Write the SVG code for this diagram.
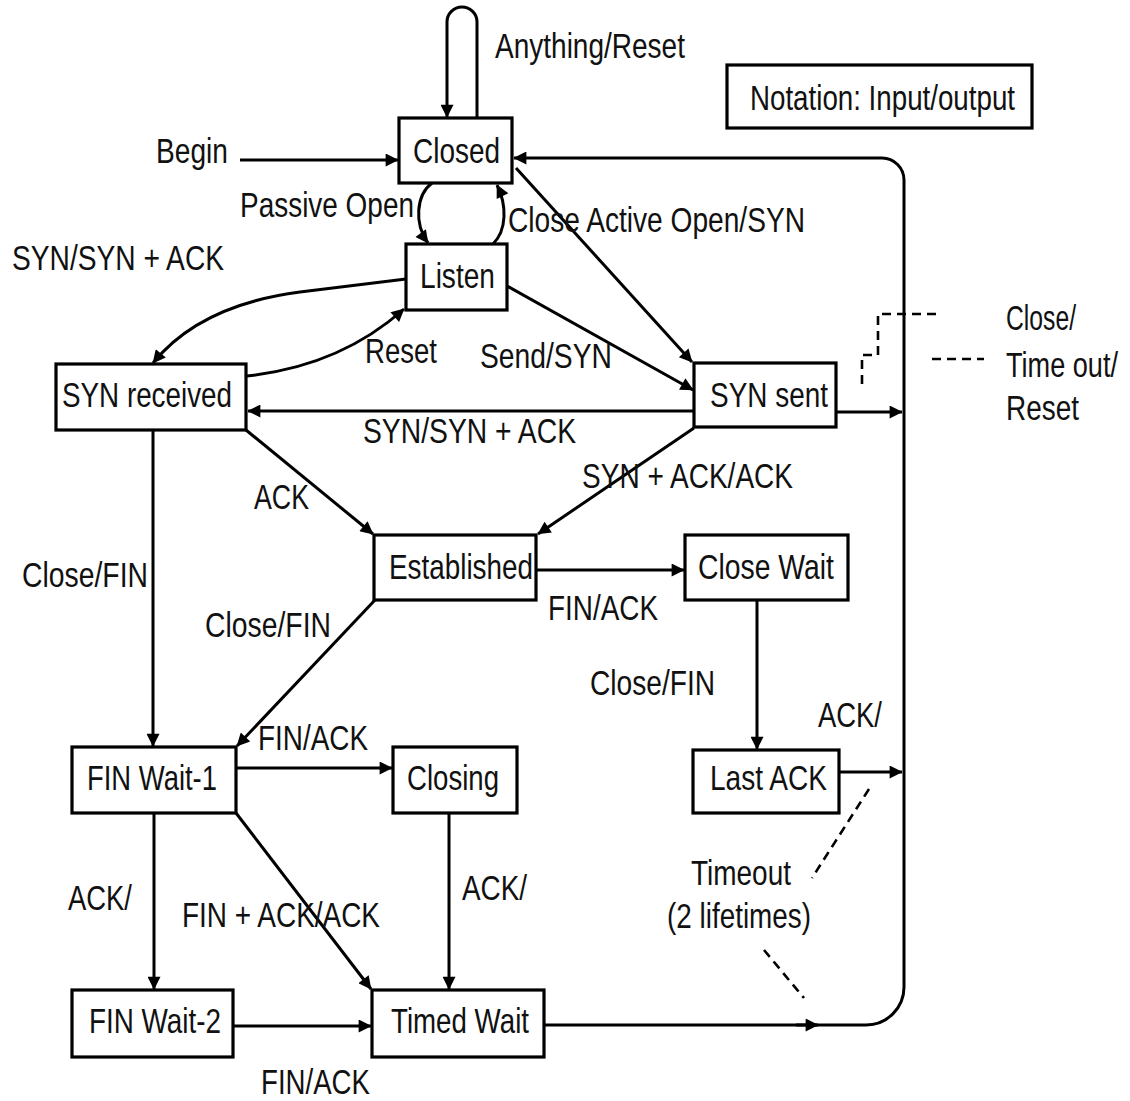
<svg xmlns="http://www.w3.org/2000/svg" width="1130" height="1101" viewBox="0 0 1130 1101">
  <style>
    .box { fill: #ffffff; stroke: #000000; stroke-width: 3.2; }
    .t { font-family: "Liberation Sans", Arial, sans-serif; font-size: 35px; fill: #111111; }
    .edge { fill: none; stroke: #000000; stroke-width: 3; }
    .arr { marker-end: url(#head); }
    .dash { fill: none; stroke: #000000; stroke-width: 2.6; stroke-dasharray: 9 6; }
  </style>
  <defs>
    <marker id="head" viewBox="0 0 10 10" refX="9.5" refY="5" markerUnits="userSpaceOnUse" markerWidth="16" markerHeight="13" orient="auto">
      <path d="M0,0 L10,5 L0,10 z" fill="#000000"/>
    </marker>
  </defs>
  <rect width="1130" height="1101" fill="#ffffff"/>

  <!-- transitions -->
  <g id="connectors">
    <!-- Closed self loop: Anything/Reset -->
    <path class="edge arr" d="M477,118 V22 A15,15 0 0 0 447,22 V117"/>
    <!-- Begin -->
    <path class="edge arr" d="M240,160 H398"/>
    <!-- Passive Open -->
    <path class="edge arr" d="M432,183 C416,195 414,224 428,243"/>
    <!-- Close (Listen back to Closed) -->
    <path class="edge arr" d="M493,244 C507,230 507,205 497,185"/>
    <!-- Active Open/SYN -->
    <path class="edge arr" d="M516,168 L692,362"/>
    <!-- Send/SYN -->
    <path class="edge arr" d="M507,286 L693,390"/>
    <!-- Listen to SYN received -->
    <path class="edge arr" d="M406,279 L300,292 Q200,305 153,363"/>
    <!-- Reset back to Listen -->
    <path class="edge arr" d="M247,376 Q340,366 404,309"/>
    <!-- SYN sent to SYN received -->
    <path class="edge arr" d="M694,411 H248"/>
    <!-- ACK -->
    <path class="edge arr" d="M246,430 L373,534"/>
    <!-- SYN + ACK/ACK -->
    <path class="edge arr" d="M694,428 L538,534"/>
    <!-- FIN/ACK to Close Wait -->
    <path class="edge arr" d="M536,570 H684"/>
    <!-- Close/FIN to Last ACK -->
    <path class="edge arr" d="M757,600 V749"/>
    <!-- SYN received Close/FIN -->
    <path class="edge arr" d="M153,430 V746"/>
    <!-- Established Close/FIN -->
    <path class="edge arr" d="M375,600 L237,746"/>
    <!-- FIN Wait-1 to Closing -->
    <path class="edge arr" d="M236,768 H392"/>
    <!-- FIN Wait-1 to FIN Wait-2 -->
    <path class="edge arr" d="M154,813 V989"/>
    <!-- FIN + ACK/ACK -->
    <path class="edge arr" d="M236,813 L371,989"/>
    <!-- Closing to Timed Wait -->
    <path class="edge arr" d="M449,813 V989"/>
    <!-- FIN Wait-2 to Timed Wait -->
    <path class="edge arr" d="M233,1026 H371"/>
    <!-- return path to Closed -->
    <path class="edge arr" d="M544,1025 H866 A38,38 0 0 0 904,987 V180 A22,22 0 0 0 882,158 H514"/>
    <path class="edge arr" d="M796,1025 H818"/>
    <!-- SYN sent to return path -->
    <path class="edge arr" d="M836,412 H902"/>
    <!-- Last ACK to return path -->
    <path class="edge arr" d="M839,772 H902"/>
    <!-- dashed pointers -->
    <path class="dash" d="M862,384 V355 H878 V314 H940"/>
    <path class="dash" d="M932,359 H984"/>
    <path class="dash" d="M869,789 L812,878"/>
    <path class="dash" d="M764,950 L804,998"/>
  </g>

  <!-- edge labels -->
  <g id="labels">
    <text class="t" x="495" y="58" textLength="190" lengthAdjust="spacingAndGlyphs">Anything/Reset</text>
    <text class="t" x="156" y="163" textLength="72" lengthAdjust="spacingAndGlyphs">Begin</text>
    <text class="t" x="240" y="217" textLength="174" lengthAdjust="spacingAndGlyphs">Passive Open</text>
    <text class="t" x="508" y="232" textLength="297" lengthAdjust="spacingAndGlyphs">Close Active Open/SYN</text>
    <text class="t" x="12" y="270" textLength="212" lengthAdjust="spacingAndGlyphs">SYN/SYN + ACK</text>
    <text class="t" x="365" y="363" textLength="72" lengthAdjust="spacingAndGlyphs">Reset</text>
    <text class="t" x="480" y="368" textLength="132" lengthAdjust="spacingAndGlyphs">Send/SYN</text>
    <text class="t" x="363" y="443" textLength="213" lengthAdjust="spacingAndGlyphs">SYN/SYN + ACK</text>
    <text class="t" x="582" y="488" textLength="211" lengthAdjust="spacingAndGlyphs">SYN + ACK/ACK</text>
    <text class="t" x="254" y="509" textLength="55" lengthAdjust="spacingAndGlyphs">ACK</text>
    <text class="t" x="22" y="587" textLength="126" lengthAdjust="spacingAndGlyphs">Close/FIN</text>
    <text class="t" x="548" y="620" textLength="110" lengthAdjust="spacingAndGlyphs">FIN/ACK</text>
    <text class="t" x="205" y="637" textLength="126" lengthAdjust="spacingAndGlyphs">Close/FIN</text>
    <text class="t" x="590" y="695" textLength="125" lengthAdjust="spacingAndGlyphs">Close/FIN</text>
    <text class="t" x="818" y="727" textLength="64" lengthAdjust="spacingAndGlyphs">ACK/</text>
    <text class="t" x="258" y="750" textLength="110" lengthAdjust="spacingAndGlyphs">FIN/ACK</text>
    <text class="t" x="691" y="885" textLength="100" lengthAdjust="spacingAndGlyphs">Timeout</text>
    <text class="t" x="667" y="928" textLength="144" lengthAdjust="spacingAndGlyphs">(2 lifetimes)</text>
    <text class="t" x="68" y="910" textLength="64" lengthAdjust="spacingAndGlyphs">ACK/</text>
    <text class="t" x="182" y="927" textLength="198" lengthAdjust="spacingAndGlyphs">FIN + ACK/ACK</text>
    <text class="t" x="462" y="900" textLength="65" lengthAdjust="spacingAndGlyphs">ACK/</text>
    <text class="t" x="261" y="1094" textLength="109" lengthAdjust="spacingAndGlyphs">FIN/ACK</text>
    <text class="t" x="1006" y="330" textLength="70" lengthAdjust="spacingAndGlyphs">Close/</text>
    <!-- narrow label near the right edge: smaller size, stretched back to full height -->
    <text class="t" transform="translate(1006,377) scale(1,1.25)" x="0" y="0" style="font-size:28px" textLength="112" lengthAdjust="spacingAndGlyphs">Time out/</text>
    <text class="t" x="1006" y="420" textLength="73" lengthAdjust="spacingAndGlyphs">Reset</text>
  </g>

  <!-- states -->
  <g id="notation">
    <rect class="box" x="727" y="65" width="305" height="63"/>
    <text class="t" x="750" y="110" textLength="265" lengthAdjust="spacingAndGlyphs">Notation: Input/output</text>
  </g>
  <g id="closed">
    <rect class="box" x="399" y="118" width="113" height="65"/>
    <text class="t" x="413" y="163" textLength="87" lengthAdjust="spacingAndGlyphs">Closed</text>
  </g>
  <g id="listen">
    <rect class="box" x="406" y="244" width="101" height="66"/>
    <text class="t" x="420" y="288" textLength="75" lengthAdjust="spacingAndGlyphs">Listen</text>
  </g>
  <g id="syn-received">
    <rect class="box" x="56" y="364" width="190" height="66"/>
    <text class="t" x="62" y="407" textLength="170" lengthAdjust="spacingAndGlyphs">SYN received</text>
  </g>
  <g id="syn-sent">
    <rect class="box" x="694" y="363" width="142" height="64"/>
    <text class="t" x="710" y="407" textLength="118" lengthAdjust="spacingAndGlyphs">SYN sent</text>
  </g>
  <g id="established">
    <rect class="box" x="374" y="535" width="162" height="65"/>
    <text class="t" x="389" y="579" textLength="144" lengthAdjust="spacingAndGlyphs">Established</text>
  </g>
  <g id="close-wait">
    <rect class="box" x="685" y="535" width="163" height="65"/>
    <text class="t" x="698" y="579" textLength="136" lengthAdjust="spacingAndGlyphs">Close Wait</text>
  </g>
  <g id="fin-wait-1">
    <rect class="box" x="72" y="747" width="164" height="66"/>
    <text class="t" x="87" y="790" textLength="130" lengthAdjust="spacingAndGlyphs">FIN Wait-1</text>
  </g>
  <g id="closing">
    <rect class="box" x="393" y="747" width="124" height="66"/>
    <text class="t" x="407" y="790" textLength="92" lengthAdjust="spacingAndGlyphs">Closing</text>
  </g>
  <g id="last-ack">
    <rect class="box" x="693" y="750" width="146" height="63"/>
    <text class="t" x="710" y="790" textLength="117" lengthAdjust="spacingAndGlyphs">Last ACK</text>
  </g>
  <g id="fin-wait-2">
    <rect class="box" x="72" y="990" width="161" height="67"/>
    <text class="t" x="89" y="1033" textLength="132" lengthAdjust="spacingAndGlyphs">FIN Wait-2</text>
  </g>
  <g id="timed-wait">
    <rect class="box" x="372" y="990" width="172" height="67"/>
    <text class="t" x="391" y="1033" textLength="138" lengthAdjust="spacingAndGlyphs">Timed Wait</text>
  </g>
</svg>
